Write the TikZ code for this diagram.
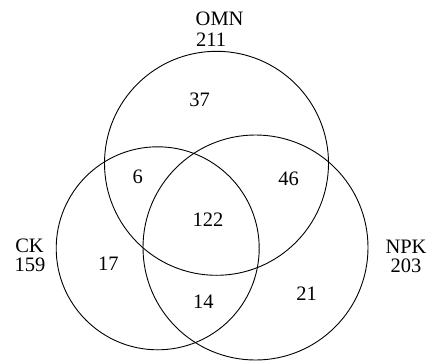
\documentclass[tikz,border=0pt]{standalone}
\usepackage{fontspec}
\setmainfont{Liberation Serif}
\begin{document}
\begin{tikzpicture}[x=1pt,y=-1pt,
  vc/.style={draw=black, line width=0.9pt, circle, inner sep=0pt, fill=none},
  lbl/.style={anchor=base, inner sep=0pt, text height=14pt, text depth=0pt,
    font=\fontsize{20.5}{20.5}\selectfont}]
\useasboundingbox (0,0) rectangle (430,361);
\node[vc, minimum size=224pt] (omn) at (216.5,163.3) {};
\node[vc, minimum size=203pt] (ck) at (157.7,248.3) {};
\node[vc, minimum size=225pt] (npk) at (255.5,247.5) {};
% set labels
\node[lbl, anchor=base west] (omnname) at (195.5,26) {OMN};
\node[lbl, anchor=base west] (omnnum) at (196,46.7) {211};
\node[lbl] (ckname) at (29.5,252.7) {CK};
\node[lbl] (cknum) at (30,271.5) {159};
\node[lbl] (npkname) at (406,253) {NPK};
\node[lbl] (npknum) at (406,272) {203};
% region counts
\node[lbl] (r37) at (199.5,106) {37};
\node[lbl] (r6) at (137.7,183) {6};
\node[lbl] (r46) at (288.7,185) {46};
\node[lbl] (r122) at (208,226) {122};
\node[lbl] (r17) at (108.3,270) {17};
\node[lbl] (r14) at (203.3,308.3) {14};
\node[lbl] (r21) at (306.7,300) {21};
\end{tikzpicture}
\end{document}
